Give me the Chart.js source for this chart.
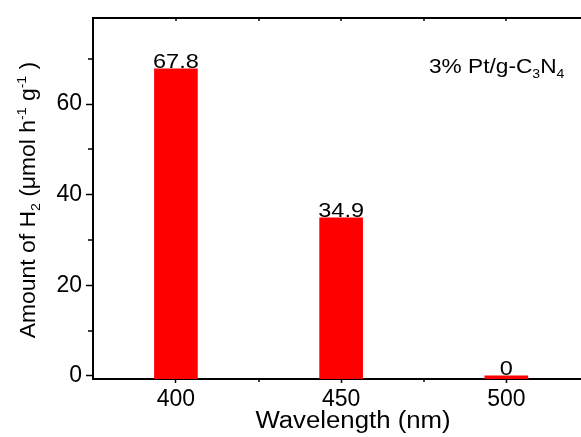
<!DOCTYPE html>
<html>
<head>
<meta charset="utf-8">
<script src="https://cdn.jsdelivr.net/npm/chart.js@4"></script>
<style>
html,body{margin:0;padding:0;background:#fff;}
canvas{display:block;}
</style>
</head>
<body>
<canvas id="c" width="581" height="437"></canvas>
<script>
const wavelengths = [400, 450, 500];
const h2Amounts = [67.8, 34.9, 0];
const barLabels = ['67.8', '34.9', '0'];
const xTickValues = [400, 450, 500];
const xMinorTicks = [425, 475];
const yTickValues = [0, 20, 40, 60];
const yMinorTicks = [10, 30, 50, 70];
const xTitleParts = [['Wavelength (nm)', 0]];
const yTitleParts = [['Amount of H', 0], ['2', 1], [' (\u03bcmol h', 0], ['-1', 2], [' g', 0], ['-1', 2], [' )', 0]];
const noteParts = [['3% Pt/g-C', 0], ['3', 1], ['N', 0], ['4', 1]];

const FONT = '"Liberation Sans", Arial, sans-serif';

function richWidth(ctx, parts, size) {
  let w = 0;
  for (const [t, m] of parts) {
    ctx.font = (m ? size * 0.62 : size) + 'px ' + FONT;
    w += ctx.measureText(t).width;
  }
  return w;
}
function drawRich(ctx, parts, size) {
  let x = 0;
  ctx.textBaseline = 'alphabetic';
  ctx.textAlign = 'left';
  for (const [t, m] of parts) {
    const s = m ? size * 0.62 : size;
    ctx.font = s + 'px ' + FONT;
    const dy = m === 1 ? size * 0.22 : (m === 2 ? -size * 0.42 : 0);
    ctx.fillText(t, x, dy);
    x += ctx.measureText(t).width;
  }
}

const extras = {
  id: 'extras',
  beforeDraw(chart) {
    const ctx = chart.ctx;
    ctx.save();
    ctx.fillStyle = '#fff';
    ctx.fillRect(0, 0, chart.width, chart.height);
    ctx.restore();
  },
  afterDraw(chart) {
    const ctx = chart.ctx;
    const xs = chart.scales.x, ys = chart.scales.y;
    const a = chart.chartArea;
    ctx.save();
    ctx.strokeStyle = '#000';
    ctx.fillStyle = '#000';
    ctx.lineWidth = 2;
    ctx.beginPath();
    ctx.moveTo(a.left - 1, a.top);
    ctx.lineTo(a.right + 2, a.top);
    ctx.stroke();
    ctx.lineWidth = 1.5;
    for (const v of xTickValues.concat(xMinorTicks)) {
      const px = Math.round(xs.getPixelForValue(v));
      ctx.beginPath();
      ctx.moveTo(px, a.top);
      ctx.lineTo(px, a.top + 3);
      ctx.stroke();
    }
    for (const v of xMinorTicks) {
      const px = Math.round(xs.getPixelForValue(v));
      ctx.beginPath();
      ctx.moveTo(px, a.bottom);
      ctx.lineTo(px, a.bottom + 3);
      ctx.stroke();
    }
    for (const v of yMinorTicks) {
      const py = Math.round(ys.getPixelForValue(v));
      ctx.beginPath();
      ctx.moveTo(a.left, py);
      ctx.lineTo(a.left - 5, py);
      ctx.stroke();
    }
    const meta = chart.getDatasetMeta(0);
    meta.data.forEach((bar, i) => {
      const size = 21, sx = 1.12;
      ctx.save();
      ctx.font = size + 'px ' + FONT;
      const w = ctx.measureText(barLabels[i]).width * sx;
      const topPx = ys.getPixelForValue(h2Amounts[i]);
      ctx.translate(bar.x - w / 2, topPx - 1);
      ctx.scale(sx, 1);
      ctx.textAlign = 'left';
      ctx.textBaseline = 'alphabetic';
      ctx.fillText(barLabels[i], 0, 0);
      ctx.restore();
    });
    {
      const size = 23, sx = 1.12;
      const w = richWidth(ctx, xTitleParts, size) * sx;
      ctx.save();
      ctx.translate(353 - w / 2, 428);
      ctx.scale(sx, 1);
      drawRich(ctx, xTitleParts, size);
      ctx.restore();
    }
    {
      const size = 22, sx = 1.04;
      const w = richWidth(ctx, yTitleParts, size) * sx;
      ctx.save();
      ctx.translate(35, 200);
      ctx.rotate(-Math.PI / 2);
      ctx.translate(-w / 2, 0);
      ctx.scale(sx, 1);
      drawRich(ctx, yTitleParts, size);
      ctx.restore();
    }
    {
      const size = 21, sx = 1.08;
      ctx.save();
      ctx.translate(429, 73);
      ctx.scale(sx, 1);
      drawRich(ctx, noteParts, size);
      ctx.restore();
    }
    ctx.restore();
  }
};

new Chart(document.getElementById('c'), {
  type: 'bar',
  data: {
    datasets: [{
      data: wavelengths.map((w, i) => ({ x: w, y: h2Amounts[i] })),
      backgroundColor: '#ff0000',
      borderWidth: 0,
      barThickness: 43,
      base: -0.7
    }]
  },
  options: {
    responsive: false,
    animation: false,
    devicePixelRatio: 1,
    layout: { padding: { left: 0, top: 18, right: 0, bottom: 0 } },
    plugins: { legend: { display: false }, tooltip: { enabled: false } },
    scales: {
      x: {
        type: 'linear',
        min: 374.9,
        max: 522.6,
        offset: false,
        afterBuildTicks: s => { s.ticks = xTickValues.map(v => ({ value: v })); },
        afterFit: s => { s.height = 58; },
        ticks: { font: { family: FONT, size: 23 }, color: '#000', padding: 3, maxRotation: 0, autoSkip: false },
        grid: { display: true, offset: false, drawOnChartArea: false, drawTicks: true, tickLength: 4, tickWidth: 1.5, tickColor: '#000' },
        border: { display: true, color: '#000', width: 2 }
      },
      y: {
        type: 'linear',
        min: -0.7,
        max: 79,
        afterBuildTicks: s => { s.ticks = yTickValues.map(v => ({ value: v })); },
        afterFit: s => { s.width = 93; },
        ticks: { font: { family: FONT, size: 23 }, color: '#000', padding: 4 },
        grid: { display: true, drawOnChartArea: false, drawTicks: true, tickLength: 7, tickWidth: 1.5, tickColor: '#000' },
        border: { display: true, color: '#000', width: 2 }
      }
    }
  },
  plugins: [extras]
});
</script>
</body>
</html>
